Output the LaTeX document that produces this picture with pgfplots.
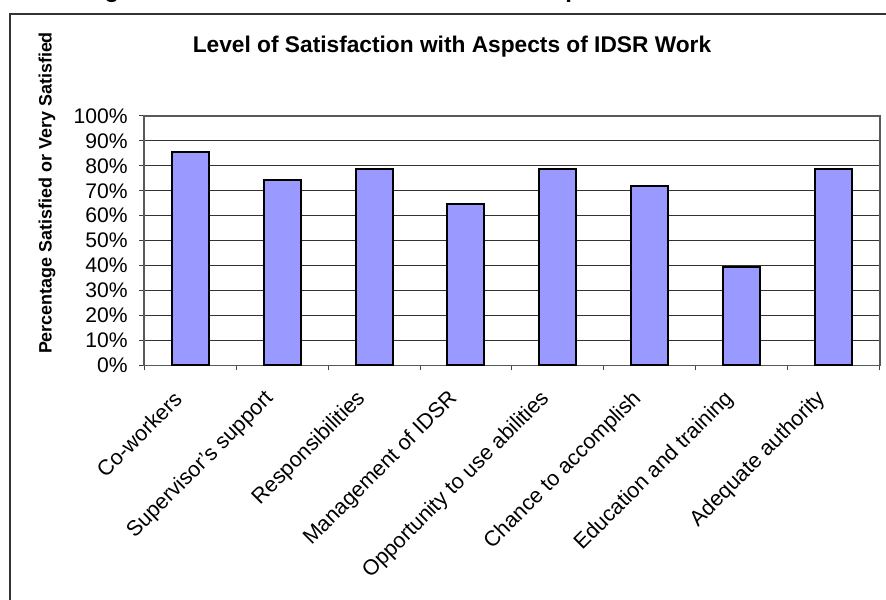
\documentclass[border=0pt]{standalone}
\usepackage{pgfplots}
\pgfplotsset{compat=1.18}
\usepackage{fontspec}
\setmainfont{Liberation Sans}
\definecolor{barfill}{HTML}{9999FF}
\begin{document}
\begin{tikzpicture}
\useasboundingbox (0,0) rectangle (443bp,300bp);
% outer chart frame
\draw[black!80, line width=0.8bp] (5bp,-5bp) -- (5bp,293bp) -- (450bp,293bp);
% cut-off caption descenders
\node[font=\bfseries\fontsize{12}{13}\selectfont, anchor=base, inner sep=0pt] at (56bp,301.2bp) {g};
\node[font=\bfseries\fontsize{12}{13}\selectfont, anchor=base west, inner sep=0pt] at (282.5bp,301.2bp) {p};
% title
\node[font=\bfseries\fontsize{11.4}{13}\selectfont] at (226bp,276.5bp) {Level of Satisfaction with Aspects of IDSR Work};
% y label
\node[font=\bfseries\fontsize{9}{11}\selectfont, rotate=90] at (23.5bp,203.5bp) {Percentage Satisfied or Very Satisfied};
\begin{axis}[
  at={(72bp,117.35bp)}, anchor=south west,
  scale only axis, width=368bp, height=124.65bp,
  xmin=-0.5, xmax=7.5, ymin=0, ymax=100,
  axis line style={draw=black!65, line width=0.6bp},
  ytick={0,10,...,100},
  yticklabel={\pgfmathprintnumber{\tick}\%},
  /pgf/number format/assume math mode=true,
  ymajorgrids, grid style={black!80, line width=0.5bp},
  tick align=outside,
  xtick pos=bottom, ytick pos=left,
  major tick length=2.5bp, minor tick length=2.5bp,
  tick style={black!75, line width=0.5bp},
  xtick={0,...,7},
  major x tick style={draw=none},
  minor xtick={-0.5,0.5,...,7.5},
  xticklabels={Co-workers,Supervisor's support,Responsibilities,Management of IDSR,Opportunity to use abilities,Chance to accomplish,Education and training,Adequate authority},
  yticklabel style={font=\fontsize{10.6}{12}\selectfont, anchor=east, inner sep=0pt, xshift=-5.5bp},
  xticklabel style={font=\fontsize{10.8}{12}\selectfont, inner sep=0pt, xshift=-5.9bp, yshift=-12.5bp, rotate=45, anchor=east},
  ybar, bar width=18.5bp,
]
\addplot[fill=barfill, draw=black, line width=1bp] coordinates {
  (0,85.5) (1,74.3) (2,78.7) (3,64.7) (4,78.7) (5,72.0) (6,39.4) (7,78.7)
};
\end{axis}
\end{tikzpicture}
\end{document}
